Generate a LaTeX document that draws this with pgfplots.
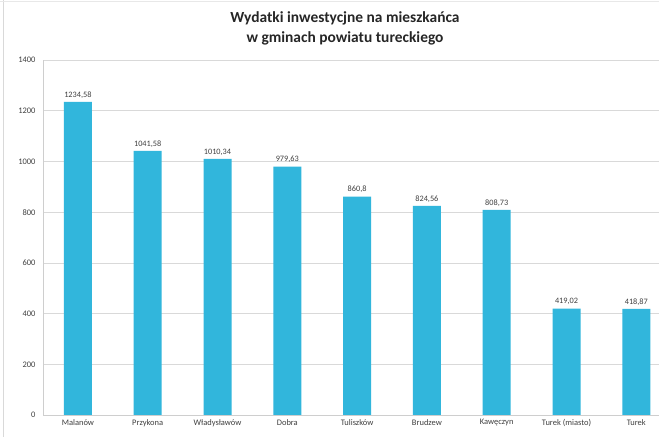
\documentclass[border=0pt]{standalone}
\usepackage{pgfplots}
\pgfplotsset{compat=1.18}
\usepackage{fontspec}
\setmainfont{Carlito}
\definecolor{barblue}{HTML}{31B6DC}
\definecolor{gridgray}{HTML}{D9D9D9}
\definecolor{txt}{HTML}{404040}
\begin{document}
\begin{tikzpicture}
\path[use as bounding box] (0,0) rectangle (659bp,437bp);
\fill[white] (0,0) rectangle (659bp,437bp);
\draw[gridgray, line width=0.8pt] (3bp,0) -- (3bp,437bp);
\draw[gridgray!60, line width=0.6pt] (0,436bp) -- (659bp,436bp);
\node[font=\fontsize{15.5}{20}\selectfont\bfseries, text=black!85, align=center] at (345bp,409bp) {Wydatki inwestycjne na mieszkańca\\w gminach powiatu tureckiego};
\begin{axis}[
  at={(43bp,22bp)}, anchor=south west,
  scale only axis, width=616bp, height=355bp,
  xmin=-0.5, xmax=8.325, ymin=0, ymax=1400,
  ytick={0,200,...,1400},
  xtick={0,...,8},
  xticklabels={Malanów,Przykona,Władysławów,Dobra,Tuliszków,Brudzew,Kawęczyn,Turek (miasto),Turek},
  axis x line*=bottom, axis y line*=left,
  axis line style={gridgray!80!black!60, line width=0.6pt},
  major tick length=0pt,
  ymajorgrids, grid style={gridgray, line width=0.6pt},
  tick label style={font=\fontsize{8.5}{10}\selectfont, text=txt},
  /pgf/number format/assume math mode=true,
  /pgf/number format/1000 sep={},
  yticklabel style={xshift=-4bp},
  xticklabel style={yshift=-1bp},
  ybar, bar width=28bp,
  nodes near coords, point meta=explicit symbolic,
  every node near coord/.append style={font=\fontsize{8.3}{10}\selectfont, text=txt, inner sep=2bp, yshift=1.5bp},
  clip=false,
]
\addplot[fill=barblue, draw=none] coordinates {
 (0,1234.58) [1234,58]
 (1,1041.58) [1041,58]
 (2,1010.34) [1010,34]
 (3,979.63) [979,63]
 (4,860.8) [860,8]
 (5,824.56) [824,56]
 (6,808.73) [808,73]
 (7,419.02) [419,02]
 (8,418.87) [418,87]
};
\end{axis}
\end{tikzpicture}
\end{document}
